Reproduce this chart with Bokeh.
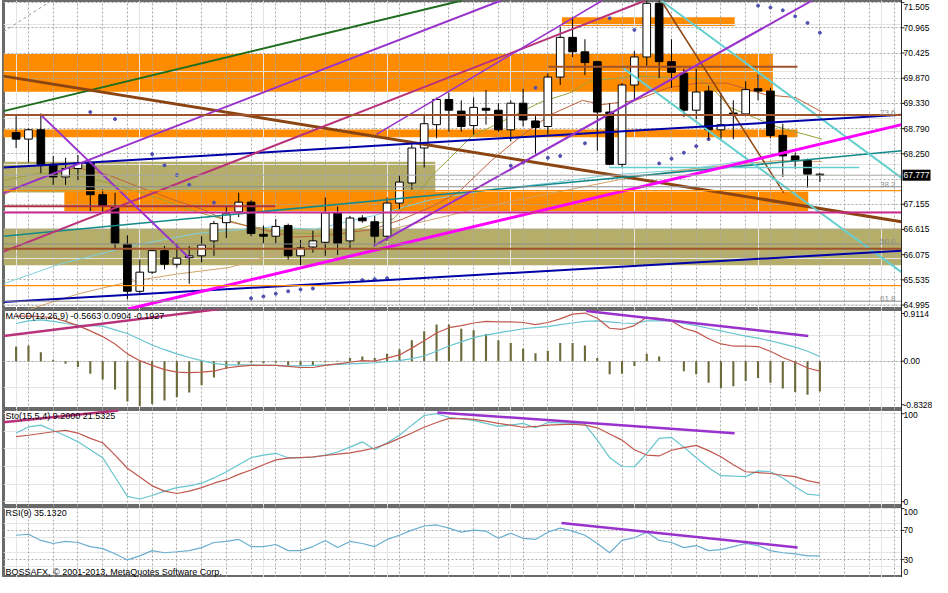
from bokeh.plotting import figure
from bokeh.models import Range1d, FixedTicker, Span, Label, ColumnDataSource, Grid
from bokeh.layouts import column
from bokeh.embed import file_html
from bokeh.resources import INLINE
from bokeh.core.properties import value

FONT = "Liberation Sans"
W = 932
X0, X1 = -1.02, 71.6

# ---------------- price data (candle index, OHLC) ----------------
candle_idx = list(range(66))
open_ = [68.69, 68.55, 68.75, 68.01, 67.74, 67.92, 68.05, 67.36, 67.09, 66.30,
         65.29, 65.70, 66.16, 65.87, 66.01, 66.05, 66.37, 66.76, 66.99, 67.20,
         66.51, 66.47, 66.70, 66.05, 66.24, 66.34, 66.97, 66.37, 66.86, 66.78,
         66.47, 67.18, 67.61, 68.36, 68.86, 69.40, 69.15, 68.84, 69.21, 69.17,
         68.75, 69.32, 68.94, 68.82, 69.88, 70.73, 70.42, 70.21, 69.13, 68.01,
         69.71, 70.31, 71.46, 70.21, 69.96, 69.17, 69.58, 68.75, 69.11, 69.09,
         69.63, 69.58, 68.63, 68.19, 68.09, 67.80]
high = [69.07, 68.78, 69.10, 68.19, 68.15, 68.21, 68.09, 67.47, 67.40, 66.49,
        65.97, 66.18, 66.26, 66.32, 66.26, 66.47, 66.80, 67.11, 67.40, 67.24,
        66.70, 66.84, 66.74, 66.39, 66.59, 67.30, 67.11, 66.90, 66.92, 66.90,
        67.30, 67.78, 68.44, 69.09, 69.44, 69.54, 69.38, 69.44, 69.60, 69.32,
        69.38, 69.63, 69.07, 69.96, 70.96, 71.16, 70.69, 70.23, 69.32, 69.75,
        70.44, 71.52, 71.52, 70.69, 70.06, 70.06, 69.69, 69.54, 69.38, 69.79,
        69.94, 69.65, 68.88, 68.26, 68.13, 67.82]
low = [68.36, 68.05, 67.82, 67.57, 67.57, 67.67, 67.01, 66.99, 66.18, 65.12,
       65.24, 65.66, 65.76, 65.80, 65.45, 65.91, 66.05, 66.43, 66.88, 66.47,
       66.32, 66.32, 65.97, 65.85, 66.12, 66.05, 66.07, 66.22, 66.76, 66.28,
       66.37, 67.05, 67.47, 67.94, 68.57, 68.71, 68.71, 68.65, 68.86, 68.71,
       68.50, 68.82, 68.24, 68.65, 69.71, 70.31, 69.92, 68.30, 67.99, 67.94,
       69.40, 70.12, 69.86, 69.65, 69.02, 68.98, 68.55, 68.55, 68.55, 69.07,
       69.38, 68.57, 67.74, 67.92, 67.51, 67.63]
close = [68.55, 68.75, 68.01, 67.74, 67.92, 68.03, 67.36, 67.11, 66.32, 65.29,
         65.70, 66.16, 65.87, 66.00, 66.05, 66.28, 66.74, 66.95, 67.20, 66.53,
         66.47, 66.68, 66.05, 66.22, 66.37, 66.97, 66.32, 66.86, 66.80, 66.47,
         67.18, 67.63, 68.36, 68.88, 69.40, 69.17, 68.82, 69.23, 69.17, 68.75,
         69.32, 68.96, 68.80, 69.88, 70.73, 70.42, 70.19, 69.13, 68.01, 69.71,
         70.31, 71.46, 70.21, 69.98, 69.17, 69.56, 68.75, 68.86, 69.09, 69.61,
         69.58, 68.63, 68.19, 68.09, 67.80, 67.777]
last_price = 67.777

price_ticks = [64.995, 65.535, 66.075, 66.615, 67.155, 68.235,
               68.775, 69.315, 69.855, 70.395, 70.935, 71.475]
price_tick_labels = ["64.995", "65.535", "66.075", "66.615", "67.155",
                     "68.250", "68.790", "69.330", "69.870", "70.425",
                     "70.965", "71.505"]
price_grid = [64.995, 65.535, 66.075, 66.615, 67.155, 67.695, 68.235,
              68.775, 69.315, 69.855, 70.395, 70.935, 71.475]
grid_idx = list(range(1, 72, 2))

# ---------------- zones (rectangles) ----------------
orange_left = [-1.02, 44.14, -1.02, 3.9]
orange_right = [61.2, 58.11, 63.19, 64.06]
orange_top = [70.374, 71.163, 68.754, 67.425]
orange_bottom = [69.564, 70.976, 68.588, 66.989]
khaki_left = [-1.02, -1.02]
khaki_right = [33.9, 71.6]
khaki_top = [68.068, 66.636]
khaki_bottom = [67.404, 65.846]

# ---------------- horizontal levels ----------------
brown_levels = [69.065, 66.199]
grey_levels = [67.529, 66.303, 65.078]
orange_levels = [67.446, 65.410]
pink_levels = [66.98]
fib_levels = [69.065, 67.529, 66.303, 65.078]
fib_labels = ["23.6", "38.2", "50.0", "61.8"]

# ---------------- trend lines (index, price) ----------------
green_x, green_y = [-1.02, 36.05], [69.15, 71.52]
brown_long_x, brown_long_y = [-1.02, 71.6], [69.90, 66.78]
brown_steep_x, brown_steep_y = [52.16, 62.08], [71.52, 67.40]
brown_short_x, brown_short_y = [43.03, 63.19], [70.10, 70.10]
maroon_x, maroon_y = [-1.02, 20.97], [67.113, 67.113]
purple_a_x, purple_a_y = [-1.02, 39.22], [67.40, 71.52]
purple_b_x, purple_b_y = [29.14, 47.40], [68.65, 71.52]
purple_c_x, purple_c_y = [28.9, 64.38], [66.26, 71.52]
purple_d_x, purple_d_y = [2.0, 13.98], [69.07, 66.01]
crimson_x, crimson_y = [-1.02, 50.89], [66.14, 71.52]
blue_up_x, blue_up_y = [-1.02, 71.6], [67.94, 69.07]
blue_lo_x, blue_lo_y = [-1.02, 71.6], [65.06, 66.16]
magenta_x, magenta_y = [9.06, 71.6], [64.91, 68.86]
teal_x, teal_y = [-1.02, 71.6], [66.47, 68.30]
turq1_x, turq1_y = [52.16, 71.6], [71.52, 67.72]
turq2_x, turq2_y = [49.14, 71.6], [70.06, 65.70]
turqh_x, turqh_y = [47.95, 68.19], [67.94, 67.94]
dash_x, dash_y = [-1.02, 2.87], [70.85, 71.52]

# ---------------- moving averages ----------------
ma_a_x = [-1.02, 1.92, 4.86, 7.48, 9.86, 12.63, 15.02, 17.24, 19.78, 22.56,
          25.33, 28.9, 31.29, 33.67, 35.81, 38.43, 40.81, 43.19, 45.81, 47.4,
          50.1, 52.71, 55.1, 57.48, 60.65, 63.03, 65.17]
ma_a_y = [67.36, 67.72, 67.94, 67.78, 67.53, 67.26, 67.05, 66.78, 66.62, 66.45,
          66.49, 66.62, 66.84, 67.11, 67.42, 68.09, 68.61, 69.07, 69.38, 69.29,
          69.38, 69.65, 69.75, 69.75, 69.50, 69.44, 69.13]
ma_b_x = [-1.02, 1.92, 4.86, 7.48, 10.65, 14.62, 18.59, 22.56, 26.52, 30.49,
          32.08, 33.67, 35.25, 36.84, 40.02, 42.4, 44.78, 46.37, 50.1, 55.1,
          56.29, 57.72, 61.45, 65.17]
ma_b_y = [67.67, 67.82, 67.78, 67.61, 67.36, 66.99, 66.70, 66.53, 66.53, 66.84,
          67.26, 67.78, 68.19, 68.61, 69.02, 69.34, 69.54, 69.79, 69.90, 69.85,
          69.65, 69.23, 68.82, 68.55]
ma_c_x = [1.13, 5.10, 9.06, 13.03, 17.24, 20.97, 24.94, 28.9, 32.87, 36.84,
          40.81, 44.78, 49.54, 54.29, 59.06, 61.68, 65.17]
ma_c_y = [64.91, 65.24, 65.49, 65.66, 65.80, 66.08, 66.32, 66.53, 66.78, 67.03,
          67.26, 67.47, 67.72, 67.90, 68.03, 68.09, 68.07]
ma_d_x = [-1.02, 3.51, 9.3, 14.62, 20.73, 24.14, 28.9, 33.67, 38.43, 43.19,
          47.95, 54.29, 59.06, 63.19]
ma_d_y = [65.45, 65.87, 66.26, 66.53, 66.67, 66.62, 66.91, 67.26, 67.47, 67.61,
          67.78, 67.90, 68.09, 68.34]

# ---------------- parabolic SAR dots ----------------
sar_idx = [6, 8, 11, 12, 13, 14, 16, 19, 20, 21, 22, 23, 24, 28, 29, 30,
           40, 41, 42, 43, 44, 46, 48, 50, 52, 53, 54, 55, 56,
           60, 61, 62, 63, 64, 65]
sar_val = [69.13, 68.98, 68.23, 67.99, 67.78, 67.57, 67.19, 65.14, 65.18, 65.24,
           65.29, 65.33, 65.35, 65.53, 65.55, 65.57, 67.98, 68.05, 69.65, 68.15,
           68.19, 68.46, 71.14, 70.89, 68.03, 68.13, 68.26, 68.40, 68.55,
           71.41, 71.37, 71.31, 71.18, 71.04, 70.83]

# ---------------- MACD ----------------
macd_hist = [0.28, 0.30, 0.17, 0.03, -0.05, -0.11, -0.24, -0.35, -0.54, -0.77,
             -0.86, -0.82, -0.75, -0.69, -0.60, -0.46, -0.31, -0.14, -0.07, -0.03,
             -0.04, -0.03, -0.08, -0.09, -0.08, -0.02, 0.01, 0.06, 0.09, 0.06,
             0.14, 0.23, 0.40, 0.57, 0.70, 0.70, 0.62, 0.59, 0.52, 0.40,
             0.35, 0.24, 0.15, 0.20, 0.35, 0.35, 0.30, 0.06, -0.25, -0.24,
             -0.09, 0.14, 0.09, -0.01, -0.19, -0.25, -0.41, -0.51, -0.48, -0.38,
             -0.32, -0.41, -0.52, -0.59, -0.64, -0.58]
macd_cyan = [0.72, 0.77, 0.79, 0.76, 0.72, 0.69, 0.68, 0.67, 0.60, 0.53,
             0.42, 0.31, 0.22, 0.14, 0.07, 0.01, -0.04, -0.07, -0.07, -0.07,
             -0.08, -0.08, -0.09, -0.09, -0.08, -0.07, -0.06, -0.05, -0.04, -0.03,
             -0.01, 0.01, 0.05, 0.10, 0.19, 0.29, 0.37, 0.45, 0.50, 0.54,
             0.58, 0.62, 0.64, 0.66, 0.70, 0.73, 0.76, 0.77, 0.75, 0.73,
             0.72, 0.77, 0.77, 0.77, 0.72, 0.68, 0.63, 0.58, 0.53, 0.48,
             0.44, 0.39, 0.33, 0.27, 0.19, 0.09]
macd_red = [0.86, 0.86, 0.85, 0.83, 0.76, 0.68, 0.58, 0.47, 0.33, 0.14,
            0.01, -0.08, -0.16, -0.21, -0.22, -0.21, -0.19, -0.13, -0.10, -0.08,
            -0.08, -0.08, -0.10, -0.12, -0.12, -0.08, -0.05, -0.02, 0.01, 0.00,
            0.06, 0.12, 0.25, 0.39, 0.54, 0.64, 0.68, 0.73, 0.76, 0.75,
            0.75, 0.74, 0.70, 0.74, 0.81, 0.90, 0.92, 0.82, 0.63, 0.61,
            0.68, 0.84, 0.82, 0.77, 0.63, 0.56, 0.43, 0.33, 0.29, 0.29,
            0.28, 0.19, 0.07, -0.02, -0.13, -0.19]
macd_ticks = [-0.8328, 0.0, 0.9114]
macd_tick_labels = ["-0.8328", "0.00", "0.9114"]
macd_crimson_x, macd_crimson_y = [-1.02, 16.6], [0.48, 1.0]
macd_purple_x, macd_purple_y = [46.1, 64.06], [0.96, 0.48]

# ---------------- Stochastic ----------------
sto_main = [78, 85, 87, 81, 75, 68, 59, 50, 28, 6,
            3, 7, 12, 16, 18, 21, 27, 34, 42, 50,
            53, 55, 50, 50, 50.5, 53, 56.5, 62, 68, 59,
            67, 75.6, 87, 98, 100, 96, 94, 92.5, 89, 85.7,
            87, 89, 84, 90, 89.5, 89, 88, 70, 50, 40,
            39.7, 55, 72, 73, 62, 50, 38.5, 29.6, 29, 28.5,
            35, 34, 27, 17, 8.5, 7]
sto_signal = [74, 75.5, 77.5, 79.5, 81, 78, 72, 67, 53, 38,
              28, 18, 12, 9.3, 12, 16, 21, 25, 31, 36,
              42, 47.5, 49.5, 50, 51, 52.5, 54, 55.4, 58, 61,
              66, 72, 78, 84.6, 90, 94.7, 94.5, 93.6, 91.5, 89,
              87, 84.6, 85.5, 87, 87.5, 88, 87, 84, 77, 70,
              59, 53, 52, 58.5, 61.5, 64, 58, 51, 42, 34,
              33, 32, 30, 28.5, 24, 21]
sto_ticks = [0, 100]
sto_tick_labels = ["0", "100"]
sto_crimson_x, sto_crimson_y = [-1.02, 8.27], [90.2, 103.7]
sto_purple_x, sto_purple_y = [34.06, 58.1], [101.5, 77.9]

# ---------------- RSI ----------------
rsi = [63.4, 64.8, 56.3, 52.1, 54.9, 53.5, 47.9, 45.1, 38.0, 29.6,
       35.2, 42.3, 39.4, 40.8, 42.3, 46.5, 53.5, 54.9, 57.7, 47.9,
       47.9, 50.7, 42.3, 42.3, 47.9, 56.3, 46.5, 54.9, 52.1, 47.9,
       57.7, 63.4, 70.4, 76.1, 77.5, 73.2, 67.6, 70.4, 69.0, 59.2,
       66.2, 59.2, 57.7, 67.6, 73.2, 69.0, 63.4, 52.1, 39.4, 56.3,
       60.0, 67.6, 56.3, 53.5, 46.5, 49.3, 42.3, 43.7, 47.9, 52.1,
       49.3, 42.3, 39.4, 38.0, 35.2, 35.1]
rsi_ticks = [0, 30, 70, 100]
rsi_tick_labels = ["0", "30", "70", "100"]
rsi_purple_x, rsi_purple_y = [44.1, 63.2], [80.3, 46.5]

macd_title = "MACD(12,26,9) -0.5663 0.0904 -0.1927"
sto_title = "Sto(15,5,4) 9.2000 21.5325"
rsi_title = "RSI(9) 35.1320"
copyright_text = "BOSSAFX, \u00a9 2001-2013, MetaQuotes Software Corp."

# ====================================================================
GRID_COLOR = "#a8a8a8"
BORDER_L = 3
AXIS_PX = 31                      # width of the price scale strip
CHART_PX = W - BORDER_L - AXIS_PX  # width of the chart area
UPX = (X1 - X0) / CHART_PX        # index units per pixel
X_END = X1 + AXIS_PX * UPX
xr = Range1d(X0, X_END)
LABEL_SIZE = "8.5px"


def panel(h, y0, y1):
    p = figure(width=W, height=h, x_range=xr, y_range=Range1d(y0, y1),
               output_backend="svg", toolbar_location=None,
               x_axis_location=None, y_axis_location=None,
               min_border_left=BORDER_L, min_border_right=0,
               min_border_top=0, min_border_bottom=0)
    p.outline_line_color = "#6a6a6a"
    p.outline_line_width = 3
    p.background_fill_color = "white"
    p.border_fill_color = "white"
    p.add_layout(Grid(dimension=0, ticker=FixedTicker(ticks=grid_idx),
                      grid_line_color=GRID_COLOR, grid_line_dash="2 2"))
    return p


def hgrid(p, ticks):
    p.add_layout(Grid(dimension=1, ticker=FixedTicker(ticks=ticks),
                      grid_line_color=GRID_COLOR, grid_line_dash="2 2"))


def price_scale(p, y0, y1, ticks, labels, label_pos=None):
    """Right-hand value scale drawn in the strip right of the chart."""
    if label_pos is None:
        label_pos = ticks
    n = len(ticks)
    p.quad(left=X1, right=X_END + 1, top=y1 + 10, bottom=y0 - 10,
           fill_color="white", line_color=None, level="overlay")
    p.segment(x0=X1, y0=y0 - 10, x1=X1, y1=y1 + 10, line_color="#2a2a2a",
              line_width=1, level="overlay")
    p.segment(x0=[X1] * n, y0=ticks, x1=[X1 + 3 * UPX] * n, y1=ticks,
              line_color="#2a2a2a", line_width=1, level="overlay")
    p.text(x=[X1] * len(labels), y=label_pos, text=labels, x_offset=2,
           text_font=value(FONT), text_font_size=value(LABEL_SIZE),
           text_color="black", text_align="left", text_baseline="middle",
           level="overlay")


def title_label(p, x, y, text):
    p.add_layout(Label(x=x, y=y, text=text, text_font=FONT, text_font_size="9px",
                       text_color="black", text_baseline="top", text_align="left"))


# ---------------- main price panel ----------------
MAIN_H, MAIN_Y0, MAIN_Y1 = 309, 64.90, 71.52
pm = panel(MAIN_H, MAIN_Y0, MAIN_Y1)
hgrid(pm, price_grid)

pm.quad(left=khaki_left, right=khaki_right, top=khaki_top, bottom=khaki_bottom,
        fill_color="#b5ad6a", line_color=None, level="image")
pm.quad(left=orange_left, right=orange_right, top=orange_top, bottom=orange_bottom,
        fill_color="#ff8c00", line_color=None, level="image")

# moving averages
pm.line(ma_d_x, ma_d_y, line_color="#7fd0dc", line_width=1)
pm.line(ma_c_x, ma_c_y, line_color="#d2a26a", line_width=1)
pm.line(ma_b_x, ma_b_y, line_color="#9aa23c", line_width=1)
pm.line(ma_a_x, ma_a_y, line_color="#c0603a", line_width=1)

# SAR
pm.scatter(sar_idx, sar_val, size=3, marker="circle", fill_color="#5050b0",
           line_color="#5050b0")

# candles
src = ColumnDataSource(dict(
    x=candle_idx, o=open_, h=high, l=low, c=close,
    top=[max(o, c) for o, c in zip(open_, close)],
    bot=[min(o, c) for o, c in zip(open_, close)],
    fill=["white" if c > o else "black" for o, c in zip(open_, close)],
))
pm.segment(x0="x", y0="l", x1="x", y1="h", source=src, line_color="black", line_width=1)
pm.vbar(x="x", top="top", bottom="bot", width=0.62, source=src,
        fill_color="fill", line_color="black", line_width=1)

# horizontal levels
for lv in grey_levels:
    pm.add_layout(Span(location=lv, dimension="width", line_color="#8c8c8c", line_width=1))
for lv in orange_levels:
    pm.add_layout(Span(location=lv, dimension="width", line_color="#ff8c00", line_width=1.2))
for lv in pink_levels:
    pm.add_layout(Span(location=lv, dimension="width", line_color="#cc2a8f", line_width=2))
for lv in brown_levels:
    pm.add_layout(Span(location=lv, dimension="width", line_color="#a0522d", line_width=2))
pm.add_layout(Span(location=last_price, dimension="width", line_color="#a8a8a8", line_width=1))

# trend lines
pm.line(dash_x, dash_y, line_color="#9a9a9a", line_width=1, line_dash="3 3")
pm.line(maroon_x, maroon_y, line_color="#b03040", line_width=2)
pm.line(brown_short_x, brown_short_y, line_color="#a0522d", line_width=2)
pm.line(green_x, green_y, line_color="#1e6e1e", line_width=2)
pm.line(brown_long_x, brown_long_y, line_color="#8b4513", line_width=3)
pm.line(brown_steep_x, brown_steep_y, line_color="#8b4513", line_width=1.5)
pm.line(teal_x, teal_y, line_color="#138a8a", line_width=1.6)
pm.line(turqh_x, turqh_y, line_color="#66d0d0", line_width=1.5)
pm.line(turq1_x, turq1_y, line_color="#66d0d0", line_width=2)
pm.line(turq2_x, turq2_y, line_color="#66d0d0", line_width=2)
pm.line(blue_up_x, blue_up_y, line_color="#0000a8", line_width=2)
pm.line(blue_lo_x, blue_lo_y, line_color="#0000a8", line_width=2)
pm.line(crimson_x, crimson_y, line_color="#b8327a", line_width=2)
pm.line(purple_a_x, purple_a_y, line_color="#9932cc", line_width=2)
pm.line(purple_b_x, purple_b_y, line_color="#9932cc", line_width=1.5)
pm.line(purple_c_x, purple_c_y, line_color="#9932cc", line_width=2)
pm.line(purple_d_x, purple_d_y, line_color="#9932cc", line_width=2)
pm.line(magenta_x, magenta_y, line_color="#ff00ff", line_width=3)

for lv, txt in zip(fib_levels, fib_labels):
    pm.add_layout(Label(x=X1 - 6 * UPX, y=lv, text=txt, text_font=FONT,
                        text_font_size="8px", text_color="#8c8c8c",
                        text_align="right", text_baseline="bottom"))

UPY_MAIN = (MAIN_Y1 - MAIN_Y0) / MAIN_H
# keep the top label fully inside the strip
main_label_pos = price_ticks[:-1] + [MAIN_Y1 - 6 * UPY_MAIN]
price_scale(pm, MAIN_Y0, MAIN_Y1, price_ticks, price_tick_labels, main_label_pos)

# current price box on the scale
pm.quad(left=X1 + 1 * UPX, right=X1 + 29 * UPX,
        top=last_price + 5.5 * UPY_MAIN, bottom=last_price - 5.5 * UPY_MAIN,
        fill_color="black", line_color=None, level="overlay")
pm.text(x=[X1], y=[last_price], text=["%.3f" % last_price], x_offset=2,
        text_font=value(FONT), text_font_size=value(LABEL_SIZE),
        text_color="white", text_align="left", text_baseline="middle",
        level="overlay")

# ---------------- MACD panel ----------------
MACD_Y0, MACD_Y1 = -0.923, 0.988
pmacd = panel(100, MACD_Y0, MACD_Y1)
hgrid(pmacd, [0.0])
pmacd.vbar(x=candle_idx, top=macd_hist, bottom=0, width=0.17,
           fill_color="#6b6a3a", line_color=None)
pmacd.line(candle_idx, macd_cyan, line_color="#66c4cf", line_width=1.2)
pmacd.line(candle_idx, macd_red, line_color="#c0584d", line_width=1.2)
pmacd.line(macd_crimson_x, macd_crimson_y, line_color="#b8327a", line_width=2.5)
pmacd.line(macd_purple_x, macd_purple_y, line_color="#9932cc", line_width=2.5)
title_label(pmacd, -0.85, 0.96, macd_title)
price_scale(pmacd, MACD_Y0, MACD_Y1, macd_ticks, macd_tick_labels)

# ---------------- Stochastic panel ----------------
STO_Y0, STO_Y1 = -5.5, 104.8
psto = panel(97, STO_Y0, STO_Y1)
psto.line(candle_idx, sto_main, line_color="#66c4cf", line_width=1.2)
psto.line(candle_idx, sto_signal, line_color="#c0584d", line_width=1.2)
psto.line(sto_crimson_x, sto_crimson_y, line_color="#b8327a", line_width=2.5)
psto.line(sto_purple_x, sto_purple_y, line_color="#9932cc", line_width=2.5)
title_label(psto, -0.85, 103.5, sto_title)
price_scale(psto, STO_Y0, STO_Y1, sto_ticks, sto_tick_labels, [0, 99])

# ---------------- RSI panel ----------------
RSI_Y0, RSI_Y1 = 5.5, 102.8
prsi = panel(71, RSI_Y0, RSI_Y1)
hgrid(prsi, [30, 70])
prsi.line(candle_idx, rsi, line_color="#6aaed0", line_width=1.2)
prsi.line(rsi_purple_x, rsi_purple_y, line_color="#9932cc", line_width=2.5)
title_label(prsi, -0.85, 101, rsi_title)
prsi.add_layout(Label(x=-0.85, y=6.5, text=copyright_text, text_font=FONT,
                      text_font_size="9px", text_color="black",
                      text_baseline="bottom", text_align="left"))
price_scale(prsi, RSI_Y0, RSI_Y1, rsi_ticks, rsi_tick_labels, [13, 30, 70, 95])

layout = column(pm, pmacd, psto, prsi)
open("out.html", "w").write(file_html(layout, INLINE))
